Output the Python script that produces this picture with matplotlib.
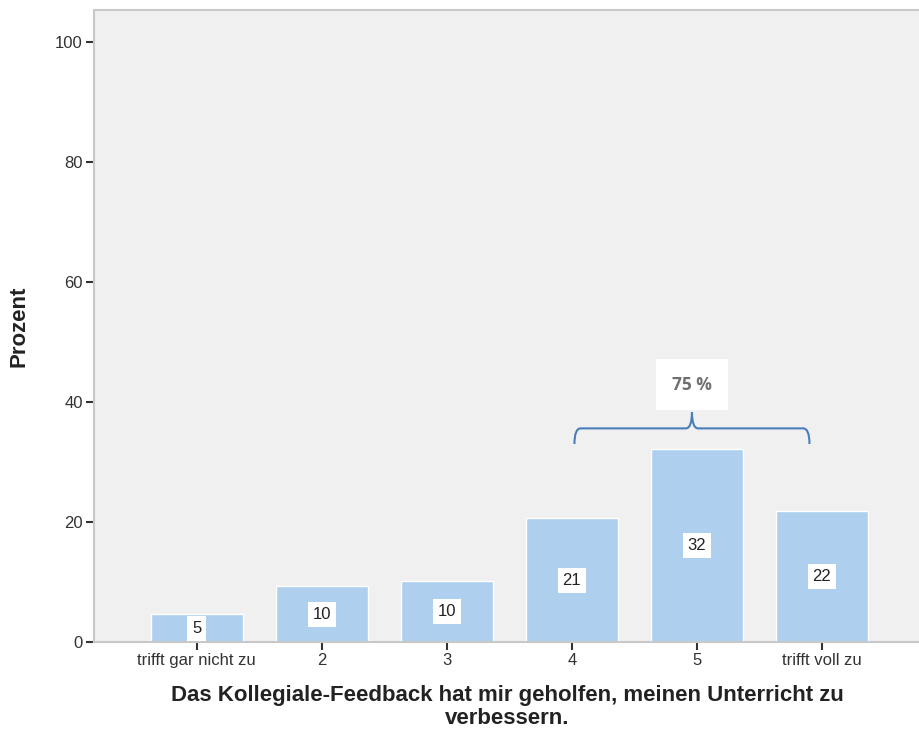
import matplotlib.pyplot as plt
from matplotlib.path import Path
from matplotlib.patches import PathPatch

plt.rcParams['font.family'] = ['Liberation Sans', 'DejaVu Sans']

categories = ['trifft gar nicht zu', '2', '3', '4', '5', 'trifft voll zu']
percent = [4.7, 9.4, 10.2, 20.7, 32.1, 21.8]
labels = ['5', '10', '10', '21', '32', '22']
brace_text = '75 %'

fig = plt.figure(figsize=(9.2, 7.34), dpi=100)
ax = fig.add_axes([0.102, 0.125, 0.898, 0.861])
ax.set_facecolor('#F0F0F0')

x = list(range(len(categories)))
ax.bar(x, percent, width=0.74, color='#AED0EE', edgecolor='white', linewidth=1, zorder=2)

for xi, v, lab in zip(x, percent, labels):
    ax.text(xi, v / 2, lab, ha='center', va='center', fontsize=12, color='#222222',
            bbox=dict(boxstyle='square,pad=0.3', facecolor='white', edgecolor='none'), zorder=3)

# curly brace over categories 4 to "trifft voll zu"
x0, x1 = 3.02, 4.90
xm = (x0 + x1) / 2
y_tip, y_mid, y_top = 33.0, 35.6, 38.3
r = 0.05
verts = [(x0, y_tip), (x0, y_mid), (x0 + r, y_mid),
         (xm - r, y_mid), (xm, y_mid), (xm, y_top),
         (xm, y_mid), (xm + r, y_mid),
         (x1 - r, y_mid), (x1, y_mid), (x1, y_tip)]
codes = [Path.MOVETO, Path.CURVE3, Path.CURVE3,
         Path.LINETO, Path.CURVE3, Path.CURVE3,
         Path.CURVE3, Path.CURVE3,
         Path.LINETO, Path.CURVE3, Path.CURVE3]
ax.add_patch(PathPatch(Path(verts, codes), facecolor='none', edgecolor='#4A7EBB', linewidth=1.5, zorder=3))
ax.text(xm, 42.9, brace_text, ha='center', va='center', fontsize=12.5, fontweight='bold',
        color='#707070', family=['Open Sans', 'DejaVu Sans'],
        bbox=dict(boxstyle='square,pad=0.95', facecolor='white', edgecolor='none'), zorder=3)

ax.set_xlim(-0.824, 5.784)
ax.set_ylim(0, 105.2)
ax.set_yticks([0, 20, 40, 60, 80, 100])
ax.set_xticks(x)
ax.set_xticklabels(categories)
ax.tick_params(axis='y', direction='out', length=6, width=1.5, color='#333333', labelsize=12, labelcolor='#333333', pad=2)
ax.tick_params(axis='x', direction='out', length=6, width=1.5, color='#333333', labelsize=12, labelcolor='#333333', pad=2)

for side in ['top', 'left', 'bottom']:
    ax.spines[side].set_color('#C8C8C8')
    ax.spines[side].set_linewidth(1.5)
ax.spines['right'].set_visible(False)

ax.set_ylabel('Prozent', fontsize=16, fontweight='bold', color='#222222')
ax.yaxis.set_label_coords(-0.078, 0.5)
ax.set_xlabel('Das Kollegiale-Feedback hat mir geholfen, meinen Unterricht zu\nverbessern.',
              fontsize=16, fontweight='bold', color='#222222', linespacing=1.1)
ax.xaxis.set_label_coords(0.5, -0.068)
ax.xaxis.label.set_va('top')

fig.savefig('out.png', dpi=100)
